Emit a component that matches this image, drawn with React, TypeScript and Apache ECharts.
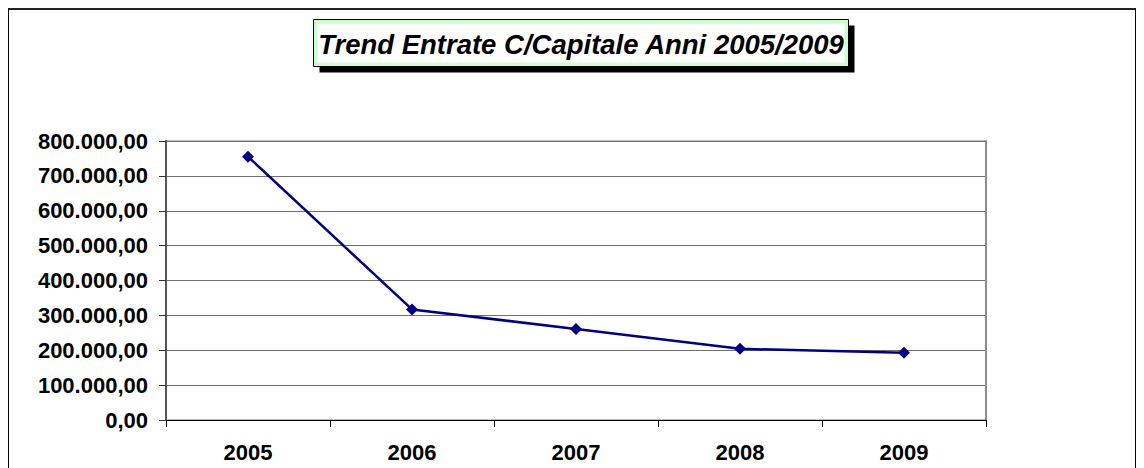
import React, { useEffect, useRef } from "react";
import * as echarts from "echarts";

const titleText = "Trend Entrate C/Capitale Anni 2005/2009";
const years = ["2005", "2006", "2007", "2008", "2009"];
const entrate = [755000, 317000, 261000, 204000, 193000];
const yMin = 0;
const yMax = 800000;
const yStep = 100000;

const FONT = "'Liberation Sans', Arial, Helvetica, sans-serif";

function fmtIt(v: number): string {
  const fixed = Math.abs(v).toFixed(2);
  const [intPart, dec] = fixed.split(".");
  const withDots = intPart.replace(/\B(?=(\d{3})+(?!\d))/g, ".");
  return (v < 0 ? "-" : "") + withDots + "," + dec;
}

export default function App() {
  const ref = useRef<HTMLDivElement>(null);

  useEffect(() => {
    document.body.style.overflow = "hidden";
    if (!ref.current) return;
    const chart = echarts.init(ref.current, undefined, { renderer: "svg" });
    chart.setOption({
      animation: false,
      backgroundColor: "#ffffff",
      grid: {
        left: 157,
        top: 131,
        right: 149,
        bottom: 48,
        show: true,
        borderColor: "#7a7a7a",
        borderWidth: 1,
        containLabel: false,
      },
      xAxis: {
        type: "category",
        data: years,
        boundaryGap: true,
        axisLine: { show: true, lineStyle: { color: "#000000", width: 1 } },
        axisTick: {
          show: true,
          alignWithLabel: false,
          length: 7,
          lineStyle: { color: "#000000", width: 1 },
        },
        axisLabel: {
          margin: 21,
          fontFamily: FONT,
          fontSize: 22,
          fontWeight: "bold",
          color: "#000000",
        },
        splitLine: { show: false },
      },
      yAxis: [
        {
          type: "value",
          min: yMin,
          max: yMax,
          interval: yStep,
          axisLine: { show: true, lineStyle: { color: "#555555", width: 2 } },
          axisTick: {
            show: true,
            length: 7,
            lineStyle: { color: "#333333", width: 1 },
          },
          axisLabel: {
            margin: 18,
            fontFamily: FONT,
            fontSize: 22,
            fontWeight: "bold",
            color: "#000000",
            formatter: (v: number) => fmtIt(v),
          },
          splitLine: { show: true, lineStyle: { color: "#6e6e6e", width: 1 } },
        },
        {
          type: "value",
          position: "right",
          min: yMin,
          max: yMax,
          interval: yStep,
          axisLine: { show: true, lineStyle: { color: "#8c8c8c", width: 2 } },
          axisTick: { show: false },
          axisLabel: { show: false },
          splitLine: { show: false },
        },
      ],
      series: [
        {
          type: "line",
          data: entrate,
          yAxisIndex: 0,
          color: "#000080",
          lineStyle: { color: "#000080", width: 2.5 },
          itemStyle: { color: "#000080" },
          symbol: "diamond",
          symbolSize: 12,
          showSymbol: true,
        },
      ],
      graphic: [
        {
          type: "group",
          left: 304,
          top: 9,
          children: [
            {
              type: "rect",
              shape: { x: 6, y: 6, width: 535, height: 47 },
              style: { fill: "#000000" },
            },
            {
              type: "rect",
              shape: { x: 0, y: 0, width: 535, height: 47 },
              style: { fill: "#ccffcc", stroke: "#000000", lineWidth: 1 },
            },
            {
              type: "rect",
              shape: { x: 4, y: 4, width: 527, height: 39 },
              style: { fill: "#ffffff" },
            },
            {
              type: "text",
              x: 267.5,
              y: 24.5,
              style: {
                text: titleText,
                fontFamily: FONT,
                fontSize: 27.5,
                fontWeight: "bold",
                fontStyle: "italic",
                fill: "#000000",
                align: "center",
                verticalAlign: "middle",
              },
            },
          ],
        },
      ],
    });
    return () => {
      chart.dispose();
    };
  }, []);

  return (
    <div
      style={{
        width: 1126,
        height: 458,
        borderTop: "2px solid #222222",
        borderLeft: "1px solid #000000",
        borderRight: "1px solid #000000",
        background: "#ffffff",
      }}
    >
      <div ref={ref} style={{ width: 1126, height: 458 }} />
    </div>
  );
}
